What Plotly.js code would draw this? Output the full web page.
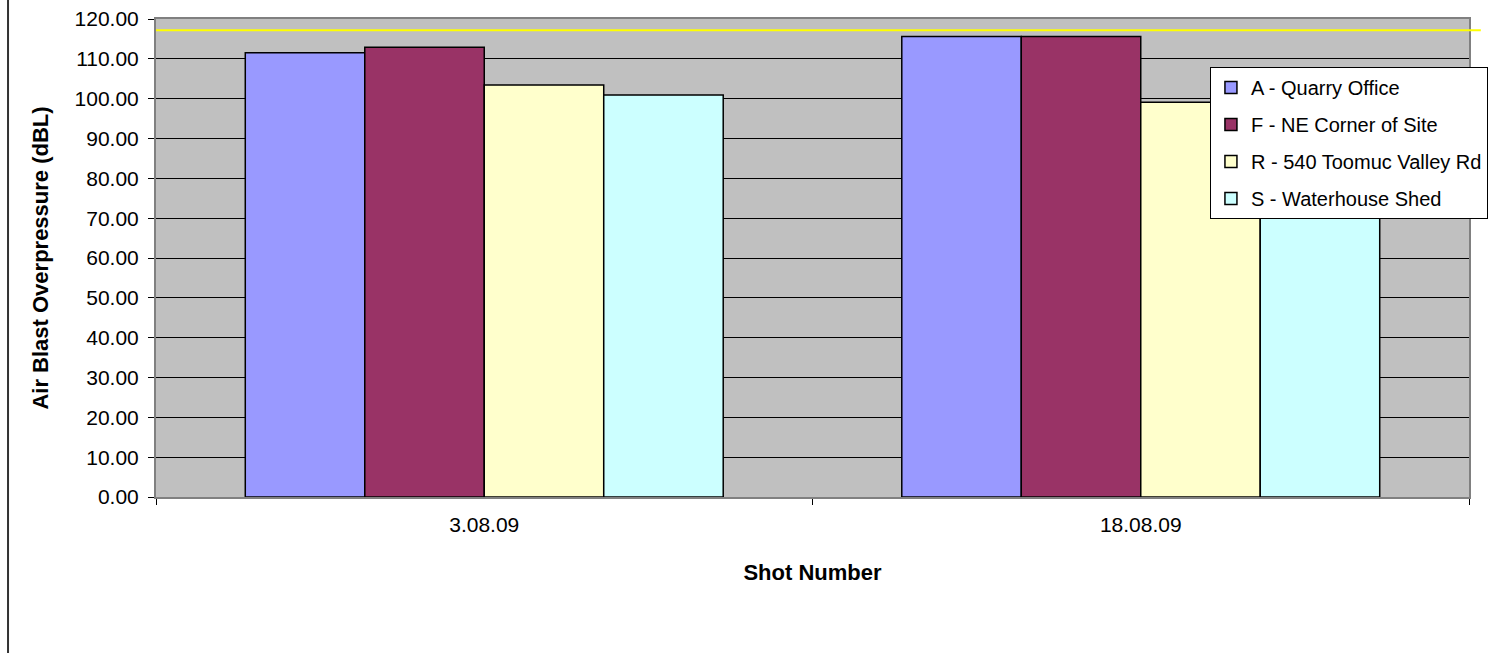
<!DOCTYPE html>
<html>
<head>
<meta charset="utf-8">
<script src="https://cdn.plot.ly/plotly-3.0.1.min.js"></script>
<style>html,body{margin:0;padding:0;background:#fff;}#chart{width:1491px;height:653px;}</style>
</head>
<body>
<div id="chart"></div>
<script>
var categories = ["3.08.09", "18.08.09"];
var seriesNames = ["A - Quarry Office", "F - NE Corner of Site", "R - 540 Toomuc Valley Rd", "S - Waterhouse Shed"];
var seriesA = [111.5, 115.6];
var seriesF = [112.9, 115.6];
var seriesR = [103.4, 99.1];
var seriesS = [100.9, 97.5];
var limitValue = 117.2;
var yTickVals = [0, 10, 20, 30, 40, 50, 60, 70, 80, 90, 100, 110, 120];

var colors = ["#9999FF", "#993366", "#FFFFCC", "#CCFFFF"];
var allSeries = [seriesA, seriesF, seriesR, seriesS];
var fontFam = "Liberation Sans, Arial, sans-serif";

var traces = allSeries.map(function (vals, i) {
  return {
    type: "bar",
    name: seriesNames[i],
    x: categories,
    y: vals,
    legendgroup: "g" + i,
    marker: { color: colors[i], line: { color: "#000000", width: 1.5 } },
    hoverinfo: "x+y+name"
  };
});

var layout = {
  width: 1491,
  height: 653,
  margin: { l: 156, r: 22, t: 19, b: 156, autoexpand: false },
  paper_bgcolor: "#FFFFFF",
  plot_bgcolor: "#C0C0C0",
  barmode: "group",
  bargap: 0.272,
  bargroupgap: 0,
  font: { family: fontFam, size: 21, color: "#000000" },
  showlegend: true,
  legend: {
    x: 0.8027, y: 0.8996, xanchor: "left", yanchor: "top",
    bgcolor: "#FFFFFF", bordercolor: "#000000", borderwidth: 1,
    font: { family: fontFam, size: 20, color: "#000000" },
    traceorder: "grouped", tracegroupgap: 8
  },
  xaxis: {
    type: "category",
    tickson: "boundaries",
    ticks: "outside", ticklen: 6, tickcolor: "#000000",
    ticklabelstandoff: 8,
    showline: true, linecolor: "#808080", linewidth: 2, mirror: true,
    showgrid: false, zeroline: false,
    tickfont: { family: fontFam, size: 21 },
    title: { text: "<b>Shot Number</b>", font: { family: fontFam, size: 22 }, standoff: 29 }
  },
  yaxis: {
    range: [0, 120],
    tickvals: yTickVals,
    tickformat: ".2f",
    ticks: "outside", ticklen: 6, tickcolor: "#000000",
    ticklabelstandoff: 5,
    showline: true, linecolor: "#808080", linewidth: 2, mirror: true,
    showgrid: true, gridcolor: "#000000", gridwidth: 1,
    zeroline: false,
    tickfont: { family: fontFam, size: 21 },
    title: { text: "<b>Air Blast Overpressure (dBL)</b>", font: { family: fontFam, size: 22 }, standoff: 20 }
  },
  shapes: [
    { type: "line", xref: "paper", yref: "y", x0: 0, x1: 1.009, y0: limitValue, y1: limitValue,
      line: { color: "#FFFF00", width: 2 } },
    { type: "line", xref: "paper", yref: "paper", x0: -0.1127, x1: -0.1127, y0: -0.33, y1: 1.05,
      line: { color: "#333333", width: 2 } }
  ]
};

Plotly.newPlot("chart", traces, layout, { displayModeBar: false, responsive: false });
</script>
</body>
</html>
